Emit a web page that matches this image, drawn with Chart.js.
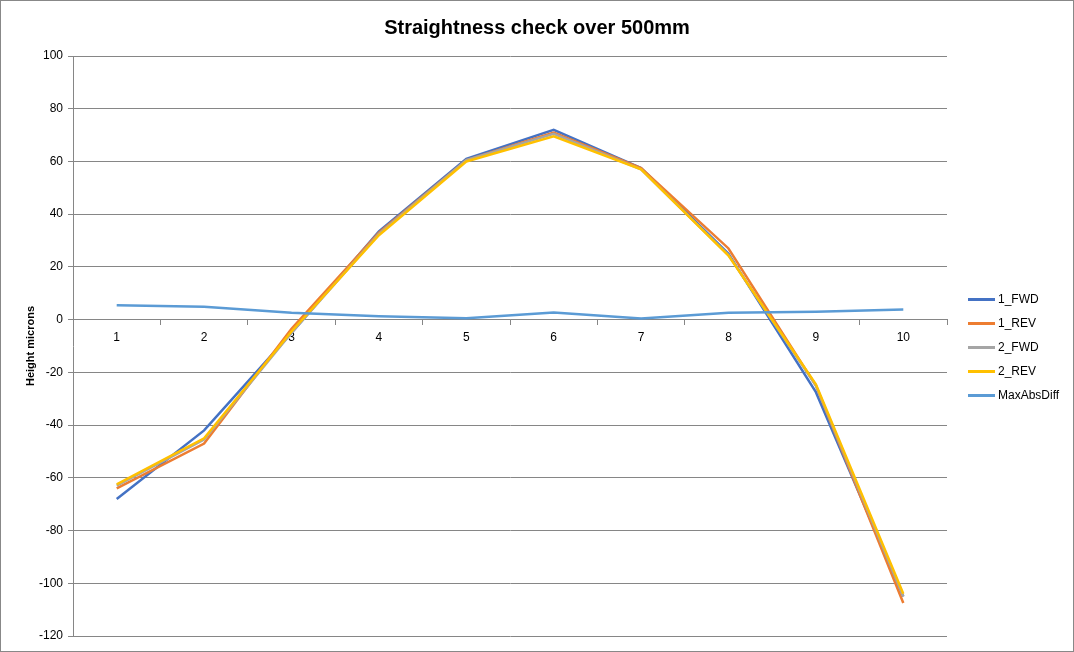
<!DOCTYPE html>
<html>
<head>
<meta charset="utf-8">
<script src="https://cdn.jsdelivr.net/npm/chart.js@4/dist/chart.umd.min.js"></script>
<style>
  html, body { margin: 0; padding: 0; background: #fff; }
  #wrap { width: 1072px; height: 650px; border: 1px solid #888; position: relative; }
  #chart { position: absolute; left: 0; top: 0; }
  .legend { position: absolute; left: 967px; top: 286px; font: 12px 'Liberation Sans', sans-serif; color: #000; }
  .legend-item { height: 24px; display: flex; align-items: center; }
  .legend-swatch { width: 27px; height: 3px; margin-right: 3px; }
</style>
</head>
<body>
<div id="wrap">
  <canvas id="chart" width="1072" height="650"></canvas>
  <div class="legend" id="legend"></div>
</div>
<script>
// Sample positions along the 500mm straight edge
const positions = ["1", "2", "3", "4", "5", "6", "7", "8", "9", "10"]

// Measured heights, microns
const fwd1 = [-68, -42, -5, 33.5, 61, 72, 57.5, 25, -27.5, -105]
const rev1 = [-64, -47, -3.5, 33, 60.5, 71, 57.5, 27, -25, -107.5]
const fwd2 = [-63, -45.5, -5, 32.5, 60.5, 70.5, 57, 24.5, -25, -105]
const rev2 = [-62.5, -45, -4.5, 32, 60, 69.5, 57, 24.3, -24.5, -104]
const maxAbsDiff = [5.5, 4.9, 2.6, 1.3, 0.5, 2.7, 0.4, 2.6, 3.0, 3.8]

const yTicks = [-120, -100, -80, -60, -40, -20, 0, 20, 40, 60, 80, 100]

const gridGray = "#868686"
const font = "'Liberation Sans', sans-serif"

const series = [
  { label: "1_FWD", data: fwd1, color: "#4472C4" },
  { label: "1_REV", data: rev1, color: "#ED7D31" },
  { label: "2_FWD", data: fwd2, color: "#A5A5A5" },
  { label: "2_REV", data: rev2, color: "#FFC000" },
  { label: "MaxAbsDiff", data: maxAbsDiff, color: "#5B9BD5" },
]

// Legend as plain HTML, same order as the series
const legendEl = document.getElementById("legend")
series.forEach((s) => {
  const item = document.createElement("div")
  item.className = "legend-item"
  const sw = document.createElement("span")
  sw.className = "legend-swatch"
  sw.style.background = s.color
  const txt = document.createElement("span")
  txt.textContent = s.label
  item.appendChild(sw)
  item.appendChild(txt)
  legendEl.appendChild(item)
})

const ctx = document.getElementById("chart").getContext("2d")

new Chart(ctx, {
  type: "line",
  data: {
    labels: positions,
    datasets: series.map((s, i) => ({
      label: s.label,
      data: s.data,
      borderColor: s.color,
      backgroundColor: s.color,
      borderWidth: 2.5,
      pointRadius: 0,
      tension: 0,
      // later series drawn on top, like the spreadsheet
      order: series.length - i,
    })),
  },
  options: {
    responsive: false,
    animation: false,
    layout: {
      padding: { left: 4, right: 4, top: 0, bottom: 15 },
    },
    plugins: {
      title: {
        display: true,
        text: "Straightness check over 500mm",
        color: "#000",
        font: { size: 20, weight: "bold", family: font },
        padding: { top: 15, bottom: 16 },
      },
      legend: { display: false },
      tooltip: { enabled: false },
    },
    scales: {
      x: {
        type: "category",
        position: { y: 0 },
        offset: true,
        border: { color: gridGray, width: 1 },
        grid: {
          offset: true,
          drawOnChartArea: false,
          color: gridGray,
          tickLength: 5,
        },
        ticks: {
          color: "#000",
          font: { size: 12, family: font },
          padding: 6,
          maxRotation: 0,
        },
      },
      y: {
        min: -120,
        max: 100,
        afterBuildTicks: (scale) => {
          scale.ticks = yTicks.map((v) => ({ value: v }))
        },
        afterFit: (scale) => {
          scale.width = 68
        },
        border: { color: gridGray, width: 1 },
        grid: {
          color: gridGray,
          tickLength: 5,
        },
        ticks: {
          color: "#000",
          font: { size: 12, family: font },
          padding: 5,
        },
        title: {
          display: true,
          text: "Height microns",
          color: "#000",
          font: { size: 11, weight: "bold", family: font },
          padding: { top: 19, bottom: 0 },
        },
      },
      // empty right-hand axis, only reserves room for the legend
      yRight: {
        display: true,
        position: "right",
        min: -120,
        max: 100,
        afterFit: (scale) => {
          scale.width = 122
        },
        border: { display: false },
        grid: { display: false },
        ticks: { display: false },
      },
    },
  },
})
</script>
</body>
</html>
